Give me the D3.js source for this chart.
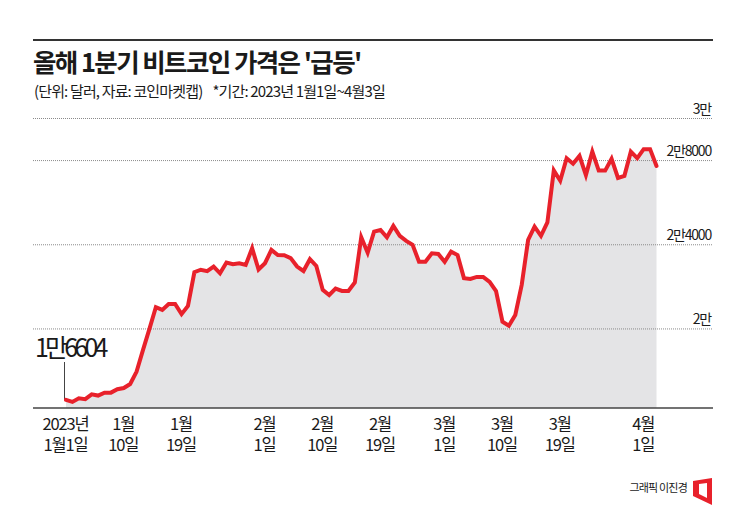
<!DOCTYPE html>
<html>
<head>
<meta charset="utf-8">
<script src="https://cdn.jsdelivr.net/npm/d3@7"></script>
<style>
  html, body { margin: 0; background: #fff; }
  text { font-family: "Noto Sans CJK KR", "Noto Sans", sans-serif; fill: #1a1a1a; }
</style>
</head>
<body>
<div id="chart"></div>
<script>
// daily close, 1 Jan - 3 Apr 2023
var prices = [
  16604, 16510, 16680, 16640, 16870, 16810, 16950, 16950, 17110, 17170,
  17360, 17950, 18980, 19980, 21010, 20880, 21160, 21160, 20680, 21070,
  22670, 22790, 22720, 22940, 22620, 23130, 23050, 23100, 23020, 23810,
  22800, 23100, 23730, 23490, 23480, 23340, 22940, 22730, 23290, 22970,
  21830, 21590, 21890, 21780, 21780, 22180, 24330, 23600, 24600, 24680,
  24330, 24870, 24400, 24160, 23970, 23170, 23170, 23570, 23540, 23170,
  23650, 23490, 22390, 22350, 22450, 22450, 22210, 21780, 20320, 20130,
  20640, 22070, 24210, 24840, 24400, 25040, 27510, 27020, 28090, 27830,
  28200, 27290, 28400, 27500, 27500, 28060, 27150, 27250, 28400, 28090,
  28520, 28520, 27720
];

var yTicks = [20000, 24000, 28000, 30000];
var yLabels = ["2만", "2만4000", "2만8000", "3만"];

var xTicks = [0, 9, 18, 31, 40, 49, 59, 68, 77, 90];
var xLabelTop = ["2023년", "1월", "1월", "2월", "2월", "2월", "3월", "3월", "3월", "4월"];
var xLabelBottom = ["1월1일", "10일", "19일", "1일", "10일", "19일", "1일", "10일", "19일", "1일"];

var width = 745, height = 505;
var left = 33, right = 712, bottom = 408;

var svg = d3.select("#chart")
  .append("svg")
  .attr("width", width)
  .attr("height", height)
  .style("display", "block");

var xScale = d3.scaleLinear()
  .domain([0, prices.length - 1])
  .range([66, 656.5]);

var yScale = d3.scaleLinear()
  .domain([16220, 30000])
  .range([bottom, 118]);

// header
svg.append("rect")
  .attr("x", left).attr("y", 39)
  .attr("width", right - left + 1).attr("height", 2)
  .attr("fill", "#333");

svg.append("text")
  .attr("x", left).attr("y", 72)
  .attr("font-size", 25.5)
  .attr("font-weight", 700)
  .attr("letter-spacing", "-1.6px")
  .text("올해 1분기 비트코인 가격은 '급등'");

svg.append("text")
  .attr("x", 34).attr("y", 97)
  .attr("font-size", 15)
  .attr("letter-spacing", "-0.85px")
  .style("white-space", "pre")
  .text("(단위: 달러, 자료: 코인마켓캡)    *기간: 2023년 1월1일~4월3일");

// area goes under the grid
var area = d3.area()
  .x(function(d, i) { return xScale(i); })
  .y0(bottom)
  .y1(function(d) { return yScale(d); });

svg.append("path")
  .datum(prices)
  .attr("d", area)
  .attr("fill", "#e4e4e6");

// y axis, ticks stretched into the dotted grid
var yAxis = d3.axisLeft(yScale)
  .tickValues(yTicks)
  .tickSize(right - left)
  .tickFormat(function(d) { return yLabels[yTicks.indexOf(d)]; });

var yG = svg.append("g")
  .attr("transform", "translate(" + right + ",0)")
  .call(yAxis);

yG.select(".domain").remove();
yG.selectAll(".tick line")
  .attr("stroke", "#8a8a8a")
  .attr("stroke-dasharray", "1,1");
yG.selectAll(".tick text")
  .attr("x", -1)
  .attr("dy", "-5px")
  .attr("text-anchor", "end")
  .attr("font-size", 14)
  .attr("letter-spacing", "-1.2px")
  .style("font-family", '"Noto Sans CJK KR", sans-serif');

// x axis, one text per tick with two lines in it
var xAxis = d3.axisBottom(xScale)
  .tickValues(xTicks)
  .tickSize(0)
  .tickFormat("");

var xG = svg.append("g")
  .attr("transform", "translate(-1," + bottom + ")")
  .call(xAxis);

xG.select(".domain").remove();
xG.selectAll(".tick text").remove();
xG.selectAll(".tick").each(function(d, i) {
  var label = d3.select(this).append("text")
    .attr("y", 22)
    .attr("text-anchor", "middle")
    .attr("font-size", 16.5)
    .attr("letter-spacing", "-1.2px");
  label.append("tspan").attr("x", 0).text(xLabelTop[i]);
  label.append("tspan").attr("x", 0).attr("dy", 21).text(xLabelBottom[i]);
});

svg.append("line")
  .attr("x1", left).attr("x2", right + 1)
  .attr("y1", bottom).attr("y2", bottom)
  .attr("stroke", "#444")
  .attr("stroke-width", 1.5);

// callout for the first value
svg.append("line")
  .attr("x1", 64.5).attr("x2", 64.5)
  .attr("y1", 362).attr("y2", yScale(prices[0]))
  .attr("stroke", "#444")
  .attr("stroke-width", 1);

svg.append("text")
  .attr("x", 35).attr("y", 357)
  .attr("font-size", 25)
  .attr("letter-spacing", "-3.8px")
  .text("1만6604");

var line = d3.line()
  .x(function(d, i) { return xScale(i); })
  .y(function(d) { return yScale(d); });

svg.append("path")
  .datum(prices)
  .attr("d", line)
  .attr("fill", "none")
  .attr("stroke", "#e8212b")
  .attr("stroke-width", 4)
  .attr("stroke-linejoin", "miter")
  .attr("stroke-linecap", "round");

// credit and logo
svg.append("text")
  .attr("x", 687).attr("y", 492)
  .attr("text-anchor", "end")
  .attr("font-size", 11)
  .attr("letter-spacing", "-0.8px")
  .attr("fill", "#444")
  .text("그래픽 이진경");

svg.append("path")
  .attr("d", "M693,481L712,478L712,505L693,496Z M699,484L707,483L707,498L699,494Z")
  .attr("fill", "#e8212b")
  .attr("fill-rule", "evenodd");
</script>
</body>
</html>
